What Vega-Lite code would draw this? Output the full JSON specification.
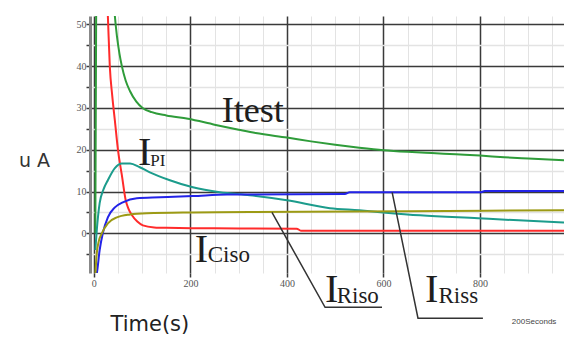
{
  "$schema": "https://vega.github.io/schema/vega-lite/v6.json",
  "width": 474,
  "height": 257,
  "autosize": {"type": "none"},
  "padding": {"left": 90, "top": 16, "right": 0, "bottom": 65},
  "background": "white",
  "config": {"view": {"stroke": null}},
  "datasets": {
    "curves": [
      {"s": "Itest", "t": 3, "v": 0}, {"s": "Itest", "t": 5, "v": 60}, {"s": "Itest", "t": 20, "v": 110}, {"s": "Itest", "t": 38, "v": 62},
      {"s": "Itest", "t": 43.5, "v": 52}, {"s": "Itest", "t": 48, "v": 47}, {"s": "Itest", "t": 53, "v": 43}, {"s": "Itest", "t": 58, "v": 40},
      {"s": "Itest", "t": 66, "v": 36.5}, {"s": "Itest", "t": 75, "v": 34}, {"s": "Itest", "t": 88, "v": 31.5}, {"s": "Itest", "t": 101, "v": 30},
      {"s": "Itest", "t": 120, "v": 29}, {"s": "Itest", "t": 150, "v": 28.2}, {"s": "Itest", "t": 195, "v": 27.4}, {"s": "Itest", "t": 250, "v": 26},
      {"s": "Itest", "t": 300, "v": 24.8}, {"s": "Itest", "t": 335, "v": 24}, {"s": "Itest", "t": 400, "v": 22.9}, {"s": "Itest", "t": 450, "v": 22},
      {"s": "Itest", "t": 500, "v": 21.2}, {"s": "Itest", "t": 550, "v": 20.5}, {"s": "Itest", "t": 600, "v": 19.9}, {"s": "Itest", "t": 650, "v": 19.5},
      {"s": "Itest", "t": 700, "v": 19.2}, {"s": "Itest", "t": 750, "v": 18.9}, {"s": "Itest", "t": 800, "v": 18.6}, {"s": "Itest", "t": 850, "v": 18.2},
      {"s": "Itest", "t": 900, "v": 17.9}, {"s": "Itest", "t": 974, "v": 17.5},

      {"s": "ICiso", "t": 15, "v": 100}, {"s": "ICiso", "t": 22, "v": 70}, {"s": "ICiso", "t": 29, "v": 52}, {"s": "ICiso", "t": 33, "v": 40},
      {"s": "ICiso", "t": 38, "v": 33}, {"s": "ICiso", "t": 43.5, "v": 27}, {"s": "ICiso", "t": 50, "v": 19.9}, {"s": "ICiso", "t": 58, "v": 13.9},
      {"s": "ICiso", "t": 66, "v": 7.9}, {"s": "ICiso", "t": 72, "v": 5.8}, {"s": "ICiso", "t": 79, "v": 4.3}, {"s": "ICiso", "t": 90, "v": 2.8},
      {"s": "ICiso", "t": 101.5, "v": 1.9}, {"s": "ICiso", "t": 125, "v": 1.4}, {"s": "ICiso", "t": 150, "v": 1.3}, {"s": "ICiso", "t": 250, "v": 1.2},
      {"s": "ICiso", "t": 420, "v": 1.1}, {"s": "ICiso", "t": 430, "v": 0.6}, {"s": "ICiso", "t": 600, "v": 0.6}, {"s": "ICiso", "t": 800, "v": 0.6},
      {"s": "ICiso", "t": 974, "v": 0.6},

      {"s": "IPI", "t": 3, "v": -4}, {"s": "IPI", "t": 6, "v": 0.7}, {"s": "IPI", "t": 12, "v": 7.2}, {"s": "IPI", "t": 20, "v": 10.5},
      {"s": "IPI", "t": 29, "v": 12.7}, {"s": "IPI", "t": 43.5, "v": 15.6}, {"s": "IPI", "t": 58, "v": 16.7}, {"s": "IPI", "t": 75, "v": 16.7},
      {"s": "IPI", "t": 95, "v": 15.8}, {"s": "IPI", "t": 116, "v": 14.6}, {"s": "IPI", "t": 157.5, "v": 12.7}, {"s": "IPI", "t": 205, "v": 11},
      {"s": "IPI", "t": 261, "v": 9.8}, {"s": "IPI", "t": 323, "v": 9.1}, {"s": "IPI", "t": 400, "v": 7.9}, {"s": "IPI", "t": 489, "v": 6},
      {"s": "IPI", "t": 550, "v": 5.5}, {"s": "IPI", "t": 599, "v": 5}, {"s": "IPI", "t": 676, "v": 4.3}, {"s": "IPI", "t": 796, "v": 3.6},
      {"s": "IPI", "t": 880, "v": 3.1}, {"s": "IPI", "t": 974, "v": 2.6},

      {"s": "IRiss", "t": 5, "v": -10}, {"s": "IRiss", "t": 6, "v": -9.6}, {"s": "IRiss", "t": 12, "v": -4}, {"s": "IRiss", "t": 18.5, "v": 0},
      {"s": "IRiss", "t": 29, "v": 3.8}, {"s": "IRiss", "t": 43.5, "v": 6.2}, {"s": "IRiss", "t": 60, "v": 7.4}, {"s": "IRiss", "t": 89, "v": 8.4},
      {"s": "IRiss", "t": 137, "v": 8.6}, {"s": "IRiss", "t": 205, "v": 8.9}, {"s": "IRiss", "t": 276, "v": 9.3}, {"s": "IRiss", "t": 323, "v": 9.3},
      {"s": "IRiss", "t": 520, "v": 9.4}, {"s": "IRiss", "t": 530, "v": 9.8}, {"s": "IRiss", "t": 800, "v": 9.8}, {"s": "IRiss", "t": 810, "v": 10.1},
      {"s": "IRiss", "t": 974, "v": 10.1},

      {"s": "IRiso", "t": 3, "v": -10}, {"s": "IRiso", "t": 6, "v": -4.8}, {"s": "IRiso", "t": 10, "v": -2}, {"s": "IRiso", "t": 16.5, "v": 0},
      {"s": "IRiso", "t": 29, "v": 2.4}, {"s": "IRiso", "t": 47.7, "v": 3.8}, {"s": "IRiso", "t": 75, "v": 4.5}, {"s": "IRiso", "t": 110, "v": 4.8},
      {"s": "IRiso", "t": 205, "v": 5}, {"s": "IRiso", "t": 323, "v": 5.1}, {"s": "IRiso", "t": 650, "v": 5.3}, {"s": "IRiso", "t": 974, "v": 5.5}
    ],
    "leaders": [
      {"k": "Riso", "o": 1, "t": 369, "v": 5.0}, {"k": "Riso", "o": 2, "t": 479, "v": -17.7}, {"k": "Riso", "o": 3, "t": 597, "v": -17.7},
      {"k": "Riss", "o": 1, "t": 618, "v": 9.8}, {"k": "Riss", "o": 2, "t": 671.5, "v": -20.3}, {"k": "Riss", "o": 3, "t": 806, "v": -20.3}
    ],
    "bigI": [
      {"txt": "I", "t": 91.2, "v": 16.3},
      {"txt": "I", "t": 209, "v": -6.9},
      {"txt": "I", "t": 479, "v": -16.5},
      {"txt": "I", "t": 686, "v": -16.5}
    ],
    "subs": [
      {"txt": "Ciso", "t": 236, "v": -6.9},
      {"txt": "Riso", "t": 503, "v": -16.7},
      {"txt": "Riss", "t": 714, "v": -16.7}
    ],
    "subPI": [{"txt": "PI", "t": 117, "v": 16.0}],
    "itest": [{"txt": "Itest", "t": 265, "v": 26.6}],
    "note": [{"txt": "200Seconds", "t": 866, "v": -21.2}]
  },
  "encoding": {
    "x": {
      "field": "t", "type": "quantitative",
      "scale": {"domain": [-8, 974], "nice": false, "zero": false},
      "axis": {
        "values": [0, 50, 100, 150, 200, 250, 300, 350, 400, 450, 500, 550, 600, 650, 700, 750, 800, 850, 900, 950],
        "labelExpr": "datum.value % 200 === 0 ? datum.label : ''",
        "grid": true,
        "gridColor": {"condition": {"test": "datum.value % 200 === 0", "value": "#3a3a3a"}, "value": "#e3e3e3"},
        "gridWidth": {"condition": {"test": "datum.value % 200 === 0", "value": 1.5}, "value": 1},
        "ticks": true,
        "tickSize": 4,
        "tickColor": {"condition": {"test": "datum.value % 200 === 0", "value": "#3a3a3a"}, "value": "transparent"},
        "tickWidth": 1.5,
        "domain": false,
        "labelFont": "Liberation Serif",
        "labelFontSize": 10,
        "labelColor": "#555",
        "labelPadding": 1,
        "title": "Time(s)",
        "titleFont": "DejaVu Sans",
        "titleFontSize": 21,
        "titleFontWeight": "normal",
        "titleColor": "#222",
        "titleAlign": "left",
        "titleBaseline": "alphabetic",
        "titleAnchor": "start",
        "titleX": 20,
        "titleY": 57
      }
    },
    "y": {
      "field": "v", "type": "quantitative",
      "scale": {"domain": [-9.5, 52], "nice": false, "zero": false},
      "axis": {
        "values": [-5, 0, 5, 10, 15, 20, 25, 30, 35, 40, 45, 50],
        "labelExpr": "(datum.value == 0 || datum.value == 10 || datum.value == 20 || datum.value == 30 || datum.value == 40 || datum.value == 50) ? datum.label : ''",
        "grid": true,
        "gridColor": {"condition": {"test": "datum.value == 0 || datum.value == 10 || datum.value == 20 || datum.value == 30 || datum.value == 40 || datum.value == 50", "value": "#3a3a3a"}, "value": "#e3e3e3"},
        "gridWidth": 1.5,
        "ticks": true,
        "tickSize": 4,
        "tickColor": "#3a3a3a",
        "tickWidth": 1.5,
        "domain": true,
        "domainColor": "#888",
        "domainWidth": 3,
        "labelFont": "Liberation Serif",
        "labelFontSize": 10,
        "labelColor": "#555",
        "labelPadding": 0,
        "title": "u A",
        "titleAngle": 0,
        "titleFont": "DejaVu Sans",
        "titleFontSize": 19,
        "titleFontWeight": "normal",
        "titleColor": "#333",
        "titleAlign": "center",
        "titleBaseline": "middle",
        "titleX": -56,
        "titleY": 144
      }
    }
  },
  "layer": [
    {
      "data": {"name": "curves"},
      "mark": {"type": "line", "strokeWidth": 2, "clip": true, "interpolate": "monotone"},
      "encoding": {
        "color": {
          "field": "s", "type": "nominal",
          "scale": {"domain": ["Itest", "ICiso", "IPI", "IRiss", "IRiso"], "range": ["#2f9c3a", "#ff2b2b", "#1c9c8c", "#2323e8", "#9c9a14"]},
          "legend": null
        }
      }
    },
    {
      "data": {"name": "leaders"},
      "mark": {"type": "line", "color": "#333", "strokeWidth": 1.5, "clip": false},
      "encoding": {
        "detail": {"field": "k"},
        "order": {"field": "o"}
      }
    },
    {
      "data": {"name": "itest"},
      "mark": {"type": "text", "font": "Liberation Serif", "fontSize": 36, "align": "left", "baseline": "alphabetic", "color": "#1e1e1e"},
      "encoding": {"text": {"field": "txt"}}
    },
    {
      "data": {"name": "bigI"},
      "mark": {"type": "text", "font": "Liberation Serif", "fontSize": 40, "align": "left", "baseline": "alphabetic", "color": "#1e1e1e"},
      "encoding": {"text": {"field": "txt"}}
    },
    {
      "data": {"name": "subs"},
      "mark": {"type": "text", "font": "Liberation Serif", "fontSize": 23, "align": "left", "baseline": "alphabetic", "color": "#1e1e1e"},
      "encoding": {"text": {"field": "txt"}}
    },
    {
      "data": {"name": "subPI"},
      "mark": {"type": "text", "font": "Liberation Serif", "fontSize": 17, "align": "left", "baseline": "alphabetic", "color": "#1e1e1e"},
      "encoding": {"text": {"field": "txt"}}
    },
    {
      "data": {"name": "note"},
      "mark": {"type": "text", "font": "Liberation Sans", "fontSize": 8, "align": "left", "baseline": "middle", "color": "#444"},
      "encoding": {"text": {"field": "txt"}}
    }
  ]
}
